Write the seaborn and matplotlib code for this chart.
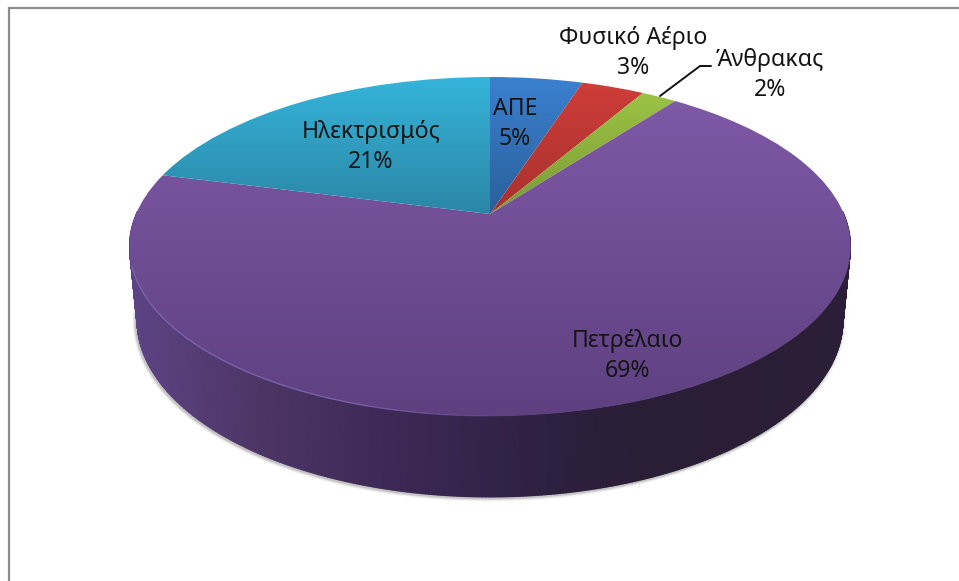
import numpy as np
import matplotlib
matplotlib.use("Agg")
import matplotlib.pyplot as plt
from matplotlib.transforms import Transform
import seaborn as sns

categories = ["ΑΠΕ", "Φυσικό Αέριο", "Άνθρακας", "Πετρέλαιο", "Ηλεκτρισμός"]
values = [5, 3.4, 1.9, 68.7, 21]
percent_labels = ["5%", "3%", "2%", "69%", "21%"]
top_colors = ["#3b80d0", "#cf3d39", "#a0c846", "#7e59a6", "#35b4da"]
low_colors = ["#2a5f9a", "#a8312e", "#7a9a35", "#5e4080", "#2b86a6"]
wall_colors = ["#5c4383", "#4d3666", "#3e2a57", "#33234a", "#2a1e38", "#2a1d35", "#2b1e37"]

sns.set_theme(style="white")
plt.rcParams["font.family"] = ["Noto Sans", "DejaVu Sans"]

CX, CY, A, C, D = 490.0, 214.0, 163.3, 0.192, 354.0


class Tilt(Transform):
    input_dims = output_dims = 2
    is_separable = False
    has_inverse = False

    def transform_non_affine(self, values):
        v = np.asarray(values, float)
        w = 1 + C * v[:, 1]
        return np.column_stack([CX + D * v[:, 0] / w, CY - A * v[:, 1] / w])


fig = plt.figure(figsize=(9.59, 5.81), dpi=100, facecolor="white")
ax = fig.add_axes([0, 0, 1, 1])

wedges, _ = ax.pie(values, startangle=90, counterclock=False, radius=1.0)
tilt = Tilt() + ax.transData
ax.set_aspect("auto")
ax.set_autoscale_on(False)
ax.set_xlim(0, 959)
ax.set_ylim(581, 0)
ax.axis("off")

# rims of the upper and lower discs
t = np.radians(np.linspace(-12, 192, 400))
top_x, top_y = 490 + 360.5 * np.cos(t), 246.5 + 169.5 * np.sin(t)
low_x, low_y = 490 + 353 * np.cos(t), 320 + 177 * np.sin(t)

# soft shadow under the wall
for lw, al in zip([5, 3.5, 2], [0.06, 0.10, 0.18]):
    ax.plot(low_x - 1, low_y + 1, color="#404040", lw=lw, alpha=al, zorder=1,
            solid_capstyle="round")

# wall, shaded from left to right
wall_cmap = sns.blend_palette(wall_colors, n_colors=256, as_cmap=True)
mesh_x = np.vstack([top_x, low_x])
mesh_y = np.vstack([top_y, low_y])
ax.pcolormesh(mesh_x, mesh_y, mesh_x, cmap=wall_cmap, vmin=137, vmax=843,
              shading="gouraud", zorder=2)

# slices with a vertical gradient, clipped to each wedge
ramp = np.linspace(0, 1, 256).reshape(-1, 1)
for w, c0, c1 in zip(wedges, top_colors, low_colors):
    w.set_transform(tilt)
    w.set_facecolor("none")
    w.set_edgecolor("none")
    w.set_clip_on(False)
    cmap = sns.blend_palette([c0, c1], n_colors=256, as_cmap=True)
    is_main = c0 == top_colors[3]
    ax_img = ax.imshow(ramp, cmap=cmap, aspect="auto", origin="upper",
                       extent=(130, 851, 416 if is_main else 214,
                               100 if is_main else 77), zorder=3)
    ax_img.set_clip_path(w)
ax.set_xlim(0, 959)
ax.set_ylim(581, 0)

# light edge along the front of the top face, fading towards the right
t2 = np.radians(np.linspace(80, 178, 200))
for a0, a1 in zip(t2[:-1:10], t2[10::10]):
    seg = np.linspace(a0, a1, 12)
    ax.plot(490 + 360.5 * np.cos(seg), 246.5 + 169.5 * np.sin(seg), color="#8468b8",
            lw=1.0, alpha=min(0.8, 0.8 * (np.degrees(a0) - 80) / 30), zorder=4,
            solid_capstyle="butt")

# frame (top and left only)
ax.plot([9, 9, 959], [581, 7.5, 7.5], color="#8c8c8c", lw=1.6, zorder=5,
        solid_joinstyle="miter")

# leader line
ax.plot([660, 700, 711], [96, 66, 66], color="#111111", lw=1.4, zorder=6)

# labels
positions = [(515, 124), (633, 53), (770, 75), (627, 356), (371, 147)]
for name, pct, (x, y) in zip(categories, percent_labels, positions):
    ax.text(x, y, f"{name}\n{pct}", ha="center", va="center", fontsize=16.6,
            color="#141414", linespacing=1.33, zorder=7)

fig.savefig("out.png", dpi=100, facecolor="white")
